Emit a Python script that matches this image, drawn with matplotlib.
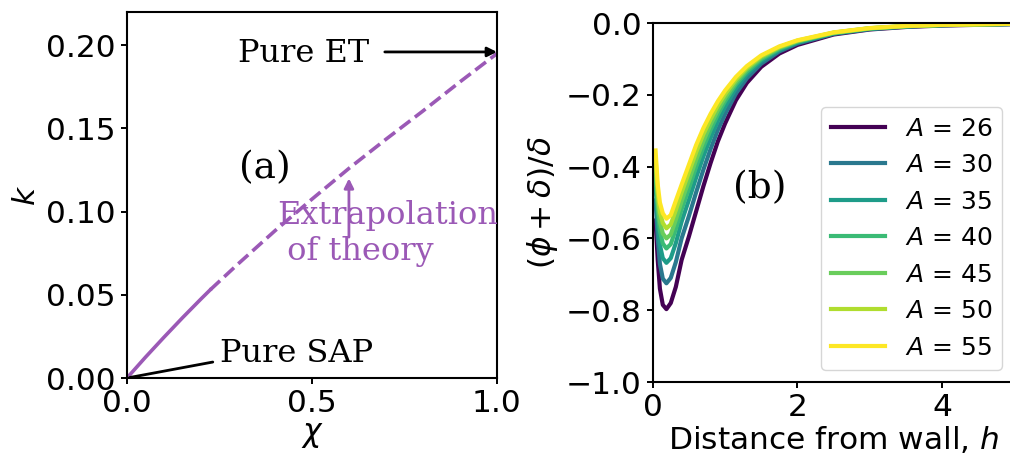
import matplotlib
matplotlib.use('Agg')
import matplotlib.pyplot as plt


PURPLE = '#9b59b6'

# panel (a): rate constant vs composition
chi_theory = [0.0, 0.05, 0.1, 0.15, 0.2, 0.225]
k_theory = [0.0, 0.0125, 0.0245, 0.0362, 0.0475, 0.053]
chi_extrap = [0.225, 0.3, 0.4, 0.5, 0.6, 0.7, 0.8, 0.9, 1.0]
k_extrap = [0.053, 0.0685, 0.0885, 0.1075, 0.126, 0.1435, 0.1605, 0.178, 0.195]

# panel (b): wall profiles for several A
h = [0.04, 0.07, 0.1, 0.14, 0.19, 0.25, 0.32, 0.4, 0.5, 0.6, 0.7, 0.8,
     0.9, 1.0, 1.15, 1.3, 1.5, 1.75, 2.0, 2.5, 3.0, 3.5, 4.0, 5.0]
A_values = [26, 30, 35, 40, 45, 50, 55]
profile_26 = [-0.55, -0.66, -0.74, -0.785, -0.797, -0.78, -0.735, -0.66,
              -0.595, -0.525, -0.455, -0.39, -0.33, -0.28, -0.215, -0.167,
              -0.122, -0.085, -0.061, -0.032, -0.018, -0.011, -0.007, -0.003]
profile_30 = [-0.494, -0.600, -0.671, -0.712, -0.725, -0.710, -0.666, -0.600,
              -0.538, -0.472, -0.409, -0.351, -0.298, -0.254, -0.196, -0.154,
              -0.113, -0.079, -0.057, -0.030, -0.017, -0.010, -0.006, -0.003]
profile_35 = [-0.451, -0.553, -0.618, -0.655, -0.668, -0.655, -0.613, -0.553,
              -0.493, -0.431, -0.372, -0.320, -0.273, -0.233, -0.182, -0.143,
              -0.106, -0.075, -0.054, -0.029, -0.016, -0.0095, -0.006, -0.0025]
profile_40 = [-0.419, -0.519, -0.579, -0.614, -0.628, -0.616, -0.574, -0.519,
              -0.461, -0.401, -0.346, -0.298, -0.255, -0.218, -0.171, -0.136,
              -0.101, -0.072, -0.052, -0.028, -0.015, -0.009, -0.0057, -0.0023]
profile_45 = [-0.398, -0.496, -0.553, -0.586, -0.600, -0.589, -0.548, -0.496,
              -0.439, -0.381, -0.329, -0.283, -0.243, -0.208, -0.164, -0.130,
              -0.097, -0.069, -0.051, -0.027, -0.0145, -0.0087, -0.0054, -0.0022]
profile_50 = [-0.376, -0.472, -0.526, -0.557, -0.572, -0.561, -0.521, -0.472,
              -0.416, -0.360, -0.310, -0.268, -0.230, -0.198, -0.157, -0.125,
              -0.093, -0.067, -0.049, -0.0267, -0.0144, -0.0083, -0.0052, -0.0021]
profile_55 = [-0.355, -0.45, -0.50, -0.53, -0.545, -0.535, -0.495, -0.45,
              -0.395, -0.34, -0.293, -0.253, -0.218, -0.188, -0.15, -0.12,
              -0.09, -0.065, -0.048, -0.026, -0.014, -0.008, -0.005, -0.002]
profiles = [profile_26, profile_30, profile_35, profile_40,
            profile_45, profile_50, profile_55]
cmap_positions = [0.0, 0.4, 0.55, 0.68, 0.77, 0.88, 1.0]

TICK_SIZE = 22.5
NOTE_SIZE = 23
PANEL_SIZE = 27


def style_axes(ax):
    for spine in ax.spines.values():
        spine.set_linewidth(1.5)
    ax.tick_params(labelsize=TICK_SIZE, width=1.4, length=4.5)


fig = plt.figure(figsize=(10.1, 4.55), dpi=100)
ax1 = fig.add_axes([0.1257, 0.1692, 0.3663, 0.8044])
ax2 = fig.add_axes([0.6462, 0.1604, 0.3584, 0.789])

# (a)
ax1.plot(chi_theory, k_theory, color=PURPLE, lw=2.6)
ax1.plot(chi_extrap, k_extrap, color=PURPLE, lw=2.6, ls='--')
ax1.set_xlim(0, 1)
ax1.set_ylim(0, 0.22)
ax1.set_xticks([0.0, 0.5, 1.0])
ax1.set_yticks([0.0, 0.05, 0.10, 0.15, 0.20])
ax1.set_yticklabels(['0.00', '0.05', '0.10', '0.15', '0.20'])
ax1.set_xlabel(r'$\chi$', fontsize=TICK_SIZE, labelpad=2)
ax1.set_ylabel(r'$k$', fontsize=TICK_SIZE)
style_axes(ax1)

ax1.text(0.30, 0.19, 'Pure ET', family='DejaVu Serif', fontsize=NOTE_SIZE)
ax1.annotate('', xy=(1.0, 0.196), xytext=(0.697, 0.196),
             arrowprops=dict(arrowstyle='-|>', lw=2, color='k',
                             mutation_scale=14, shrinkA=0, shrinkB=0))
ax1.text(0.251, 0.0096, 'Pure SAP', family='DejaVu Serif', fontsize=NOTE_SIZE)
ax1.annotate('', xy=(0.0, 0.0), xytext=(0.232, 0.0096),
             arrowprops=dict(arrowstyle='-', lw=2, color='k',
                             shrinkA=0, shrinkB=2))
ax1.text(0.373, 0.126, '(a)', family='DejaVu Serif', fontsize=PANEL_SIZE,
         ha='center', va='center')
ax1.text(0.405, 0.0709, 'Extrapolation\n of theory', family='DejaVu Serif',
         fontsize=NOTE_SIZE, color=PURPLE, va='baseline')
ax1.annotate('', xy=(0.6, 0.12), xytext=(0.6, 0.0847),
             arrowprops=dict(arrowstyle='-|>', lw=2, color=PURPLE,
                             mutation_scale=14, shrinkA=0, shrinkB=0))

# (b)
for A, prof, c in zip(A_values, profiles, cmap_positions):
    ax2.plot(h, prof, color=plt.cm.viridis(c), lw=3, label=f'$A$ = {A}')
ax2.set_xlim(0, 5)
ax2.set_ylim(-1.0, 0.0)
ax2.set_xticks([0, 2, 4])
ax2.set_yticks([-1.0, -0.8, -0.6, -0.4, -0.2, 0.0])
ax2.set_yticklabels(['−1.0', '−0.8', '−0.6', '−0.4', '−0.2', '0.0'])
ax2.set_xlabel('Distance from wall, $h$', fontsize=TICK_SIZE, labelpad=1)
ax2.set_ylabel(r'$(\phi + \delta)/\delta$', fontsize=TICK_SIZE)
style_axes(ax2)
ax2.text(1.48, -0.46, '(b)', family='DejaVu Serif', fontsize=PANEL_SIZE,
         ha='center', va='center')
ax2.legend(loc='lower right', fontsize=18, handlelength=2.15)

fig.savefig('out.png', dpi=100)
